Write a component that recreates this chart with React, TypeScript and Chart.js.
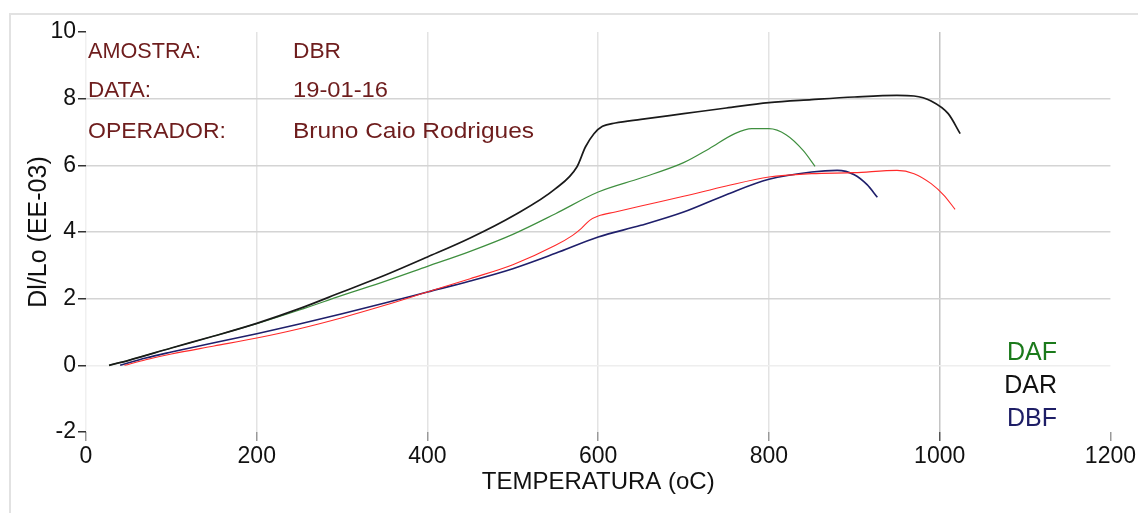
import React, { useEffect, useRef } from 'react';
import { Chart, registerables } from 'chart.js';

Chart.register(...registerables);

// DAR (black)
const darX = [27, 50, 100, 150, 200, 250, 300, 350, 400, 450, 500, 550, 575, 585, 595, 605, 620, 650, 700, 750, 800, 850, 900, 950, 970, 990, 1010, 1024];
const darY = [0, 0.15, 0.52, 0.88, 1.26, 1.7, 2.2, 2.7, 3.25, 3.82, 4.48, 5.3, 5.95, 6.55, 6.95, 7.17, 7.27, 7.38, 7.55, 7.72, 7.88, 7.97, 8.05, 8.1, 8.08, 7.93, 7.55, 6.95];

// DAF (green)
const dafX = [27, 50, 100, 150, 200, 250, 300, 350, 400, 450, 500, 550, 600, 650, 700, 730, 760, 780, 800, 820, 840, 854];
const dafY = [0, 0.15, 0.52, 0.88, 1.25, 1.66, 2.1, 2.52, 2.97, 3.42, 3.93, 4.55, 5.2, 5.62, 6.08, 6.5, 6.95, 7.1, 7.1, 6.92, 6.45, 5.97];

// DBF (navy)
const dbfX = [40, 70, 100, 150, 200, 250, 300, 350, 400, 450, 500, 550, 600, 650, 700, 750, 800, 850, 880, 900, 915, 927];
const dbfY = [0, 0.22, 0.4, 0.68, 0.95, 1.24, 1.55, 1.87, 2.2, 2.53, 2.9, 3.36, 3.85, 4.2, 4.6, 5.12, 5.58, 5.8, 5.85, 5.72, 5.42, 5.04];

// DBR (red)
const dbrX = [45, 70, 100, 150, 200, 250, 300, 350, 400, 450, 500, 550, 570, 580, 590, 600, 620, 650, 700, 750, 800, 850, 900, 950, 970, 990, 1005, 1018];
const dbrY = [0, 0.17, 0.34, 0.58, 0.82, 1.1, 1.43, 1.8, 2.2, 2.6, 3.02, 3.6, 3.9, 4.1, 4.35, 4.48, 4.6, 4.78, 5.07, 5.38, 5.65, 5.75, 5.78, 5.85, 5.75, 5.45, 5.1, 4.68];

const infoLabels = ['AMOSTRA:', 'DATA:', 'OPERADOR:'];
const infoValues = ['DBR', '19-01-16', 'Bruno Caio Rodrigues'];
const legendNames = ['DAF', 'DAR', 'DBF'];
const legendColors = ['#1b7a1b', '#111111', '#1e1e66'];

const xTitle = 'TEMPERATURA (oC)';
const yTitle = 'Dl/Lo (EE-03)';

const FONT = '"Liberation Sans", Arial, sans-serif';

const toPts = (xs: number[], ys: number[]) => xs.map((x, i) => ({ x, y: ys[i] }));

// draw text left-aligned, stretched horizontally to a target width
const fitText = (ctx: any, text: string, x: number, y: number, w: number) => {
  const m = ctx.measureText(text).width;
  ctx.save();
  ctx.translate(x, y);
  ctx.scale(w / m, 1);
  ctx.textAlign = 'left';
  ctx.fillText(text, 0, 0);
  ctx.restore();
};

const labelWidths = [113, 63, 138];
const valueWidths = [48, 95, 241];

const decorPlugin = {
  id: 'decor',
  beforeDraw(chart: any) {
    const ctx = chart.ctx;
    ctx.save();
    ctx.fillStyle = '#ffffff';
    ctx.fillRect(0, 0, chart.width, chart.height);
    ctx.strokeStyle = '#e2e2e2';
    ctx.lineWidth = 2;
    ctx.beginPath();
    ctx.moveTo(9, 14);
    ctx.lineTo(chart.width, 14);
    ctx.moveTo(10, 14);
    ctx.lineTo(10, chart.height);
    ctx.stroke();
    ctx.restore();
  },
  afterDraw(chart: any) {
    const ctx = chart.ctx;
    ctx.save();
    ctx.textBaseline = 'alphabetic';
    ctx.fillStyle = '#6e1d1d';
    ctx.font = `22px ${FONT}`;
    const baselines = [58, 97, 138];
    infoLabels.forEach((t, i) => {
      fitText(ctx, t, 88, baselines[i], labelWidths[i]);
      fitText(ctx, infoValues[i], 293, baselines[i], valueWidths[i]);
    });
    ctx.font = `25px ${FONT}`;
    const lb = [360, 393, 426];
    legendNames.forEach((t, i) => {
      ctx.fillStyle = legendColors[i];
      ctx.textAlign = 'right';
      ctx.fillText(t, 1057, lb[i]);
    });
    ctx.restore();
  },
};

export default function App() {
  const ref = useRef<HTMLCanvasElement | null>(null);

  useEffect(() => {
    if (!ref.current) return;
    const chart = new Chart(ref.current, {
      type: 'line',
      data: {
        datasets: [
          { label: 'DAR', data: toPts(darX, darY), borderColor: '#1a1a1a', borderWidth: 1.7, pointRadius: 0, fill: false, cubicInterpolationMode: 'monotone' },
          { label: 'DAF', data: toPts(dafX, dafY), borderColor: '#3f8f3f', borderWidth: 1.2, pointRadius: 0, fill: false, cubicInterpolationMode: 'monotone' },
          { label: 'DBR', data: toPts(dbrX, dbrY), borderColor: '#ff2a2a', borderWidth: 1.1, pointRadius: 0, fill: false, cubicInterpolationMode: 'monotone' },
          { label: 'DBF', data: toPts(dbfX, dbfY), borderColor: '#1f1f6b', borderWidth: 1.6, pointRadius: 0, fill: false, cubicInterpolationMode: 'monotone' },
        ],
      },
      options: {
        responsive: false,
        animation: false,
        devicePixelRatio: 1,
        layout: { padding: { top: 32, right: 26, left: 0, bottom: 0 } },
        plugins: { legend: { display: false }, tooltip: { enabled: false } },
        scales: {
          x: {
            type: 'linear',
            min: 0,
            max: 1200,
            ticks: {
              stepSize: 200,
              color: '#111',
              font: { size: 23, family: FONT },
              padding: 2,
              maxRotation: 0,
              callback: (v: any) => String(v),
            },
            grid: {
              color: (c: any) => {
                const v = c.tick ? c.tick.value : null;
                if (v === 1200) return 'rgba(0,0,0,0)';
                if (v === 0) return '#f0f0f0';
                if (v === 1000) return '#c4c4c4';
                return '#e3e3e3';
              },
              tickColor: (c: any) => (c.tick && c.tick.value === 1000 ? '#555' : '#999'),
              tickLength: 9,
              lineWidth: 1.5,
            },
            border: { display: false },
            title: { display: true, text: xTitle, color: '#111', font: { size: 24, family: FONT }, padding: { top: 0, bottom: 16 } },
            afterFit: (s: any) => { s.height = 81; },
          },
          y: {
            min: -2,
            max: 10,
            ticks: { stepSize: 2, color: '#111', font: { size: 23, family: FONT }, padding: 2, callback: (v: any) => String(v) },
            grid: {
              color: (c: any) => {
                const v = c.tick ? c.tick.value : null;
                if (v === 10 || v === -2) return 'rgba(0,0,0,0)';
                if (v === 0) return '#eeeeee';
                return '#d4d4d4';
              },
              tickColor: '#333',
              tickLength: 8,
              lineWidth: 1.5,
            },
            border: { display: false },
            title: { display: true, text: yTitle, color: '#111', font: { size: 25, family: FONT }, padding: { top: 24, bottom: 0 } },
            afterFit: (s: any) => { s.width = 86; },
          },
        },
      },
      plugins: [decorPlugin],
    } as any);
    return () => chart.destroy();
  }, []);

  return (
    <div style={{ position: 'fixed', left: 0, top: 0, width: 1138, height: 513, background: '#fff' }}>
      <canvas ref={ref} width={1138} height={513} style={{ width: 1138, height: 513, display: 'block' }} />
    </div>
  );
}
